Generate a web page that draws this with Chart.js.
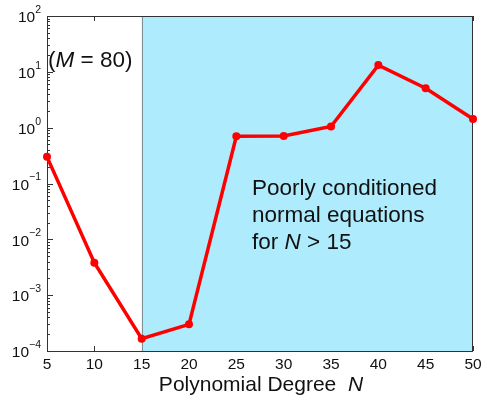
<!DOCTYPE html>
<html>
<head>
<meta charset="utf-8">
<script src="https://cdn.jsdelivr.net/npm/chart.js@4"></script>
<style>
  html, body { margin: 0; padding: 0; background: #fff; }
  #wrap { width: 487px; height: 400px; }
</style>
</head>
<body>
<div id="wrap"><canvas id="errCanvas" width="487" height="400"></canvas></div>
<script>
// polynomial degree N and the error for M = 80
const degrees = [5, 10, 15, 20, 25, 30, 35, 40, 45, 50]
const errors = [0.30, 0.0038, 0.000166, 0.00030, 0.70, 0.71, 1.05, 13.2, 5.1, 1.43]

const xTicks = [5, 10, 15, 20, 25, 30, 35, 40, 45, 50]
const yExponents = [-4, -3, -2, -1, 0, 1, 2]
const shadeFrom = 15

const FONT = '"Liberation Sans", Arial, sans-serif'

const paperPlugin = {
  id: 'paper',
  beforeDatasetsDraw(chart) {
    const { ctx, chartArea: a, scales: { x, y } } = chart
    ctx.save()
    ctx.strokeStyle = '#333'
    ctx.lineWidth = 1
    // y ticks, major and minor, inside
    yExponents.forEach((e, i) => {
      const py = Math.round(y.getPixelForValue(Math.pow(10, e))) + 0.5
      ctx.beginPath(); ctx.moveTo(a.left, py); ctx.lineTo(a.left + 6, py); ctx.stroke()
      if (i < yExponents.length - 1) {
        for (let m = 2; m < 10; m++) {
          const my = Math.round(y.getPixelForValue(m * Math.pow(10, e))) + 0.5
          ctx.beginPath(); ctx.moveTo(a.left, my); ctx.lineTo(a.left + 3, my); ctx.stroke()
        }
      }
    })
    // x ticks top and bottom
    xTicks.forEach(v => {
      const px = Math.round(x.getPixelForValue(v)) + 0.5
      ctx.beginPath(); ctx.moveTo(px, a.bottom); ctx.lineTo(px, a.bottom - 5); ctx.stroke()
      ctx.beginPath(); ctx.moveTo(px, a.top); ctx.lineTo(px, a.top + 5); ctx.stroke()
    })
    // shaded region
    const sx = x.getPixelForValue(shadeFrom)
    ctx.fillStyle = '#aeebfc'
    ctx.fillRect(sx, a.top, a.right - sx, a.bottom - a.top)
    ctx.strokeStyle = '#7f8f96'
    ctx.beginPath(); ctx.moveTo(Math.round(sx) + 0.5, a.top); ctx.lineTo(Math.round(sx) + 0.5, a.bottom); ctx.stroke()
    // frame
    ctx.strokeStyle = '#333'
    ctx.strokeRect(a.left + 0.5, a.top + 0.5, a.right - a.left - 1, a.bottom - a.top)
    ctx.restore()
  },
  afterDraw(chart) {
    const { ctx, chartArea: a, scales: { x, y } } = chart
    ctx.save()
    ctx.fillStyle = '#111'
    // x tick labels
    ctx.font = '15.5px ' + FONT
    ctx.textAlign = 'center'
    ctx.textBaseline = 'middle'
    xTicks.forEach(v => ctx.fillText(String(v), x.getPixelForValue(v), 365))
    // y tick labels 10^e
    yExponents.forEach(e => {
      const py = y.getPixelForValue(Math.pow(10, e))
      const exp = e < 0 ? '\u2212' + (-e) : String(e)
      ctx.font = '10.5px ' + FONT
      const ew = ctx.measureText(exp).width
      ctx.textAlign = 'right'
      ctx.textBaseline = 'middle'
      ctx.fillText(exp, 41, py - 6)
      ctx.font = '15.5px ' + FONT
      ctx.fillText('10', 41 - ew, py + 2)
    })
    // x axis title
    ctx.textAlign = 'left'
    ctx.textBaseline = 'middle'
    ctx.font = '21px ' + FONT
    const t1 = 'Polynomial Degree  '
    const w1 = ctx.measureText(t1).width
    ctx.font = 'italic 21px ' + FONT
    const w2 = ctx.measureText('N').width
    const tx = 261 - (w1 + w2) / 2
    ctx.font = '21px ' + FONT
    ctx.fillText(t1, tx, 385)
    ctx.font = 'italic 21px ' + FONT
    ctx.fillText('N', tx + w1, 385)
    // (M = 80)
    let px = 48
    ctx.font = '22.5px ' + FONT
    ctx.fillText('(', px, 61); px += ctx.measureText('(').width
    ctx.font = 'italic 22.5px ' + FONT
    ctx.fillText('M', px, 61); px += ctx.measureText('M').width
    ctx.font = '22.5px ' + FONT
    ctx.fillText(' = 80)', px, 61)
    // annotation
    ctx.font = '22.5px ' + FONT
    ctx.fillText('Poorly conditioned', 252, 189)
    ctx.fillText('normal equations', 252, 216)
    const fw = ctx.measureText('for ').width
    ctx.fillText('for ', 252, 243)
    ctx.font = 'italic 22.5px ' + FONT
    const nw = ctx.measureText('N').width
    ctx.fillText('N', 252 + fw, 243)
    ctx.font = '22.5px ' + FONT
    ctx.fillText(' > 15', 252 + fw + nw, 243)
    ctx.restore()
  }
}

const errChart = new Chart(document.getElementById('errCanvas'), {
  type: 'line',
  data: {
    datasets: [{
      data: degrees.map((d, i) => ({ x: d, y: errors[i] })),
      borderColor: '#ff0000',
      backgroundColor: '#ff0000',
      borderWidth: 3.5,
      pointRadius: 4,
      pointBorderWidth: 0,
      tension: 0,
      clip: false
    }]
  },
  options: {
    responsive: false,
    animation: false,
    events: [],
    layout: { padding: { left: 47, right: 14, top: 16, bottom: 49 } },
    plugins: { legend: { display: false }, tooltip: { enabled: false } },
    scales: {
      x: { type: 'linear', min: 5, max: 50, display: false },
      y: { type: 'logarithmic', min: 1e-4, max: 1e2, display: false }
    }
  },
  plugins: [paperPlugin]
})
</script>
</body>
</html>
